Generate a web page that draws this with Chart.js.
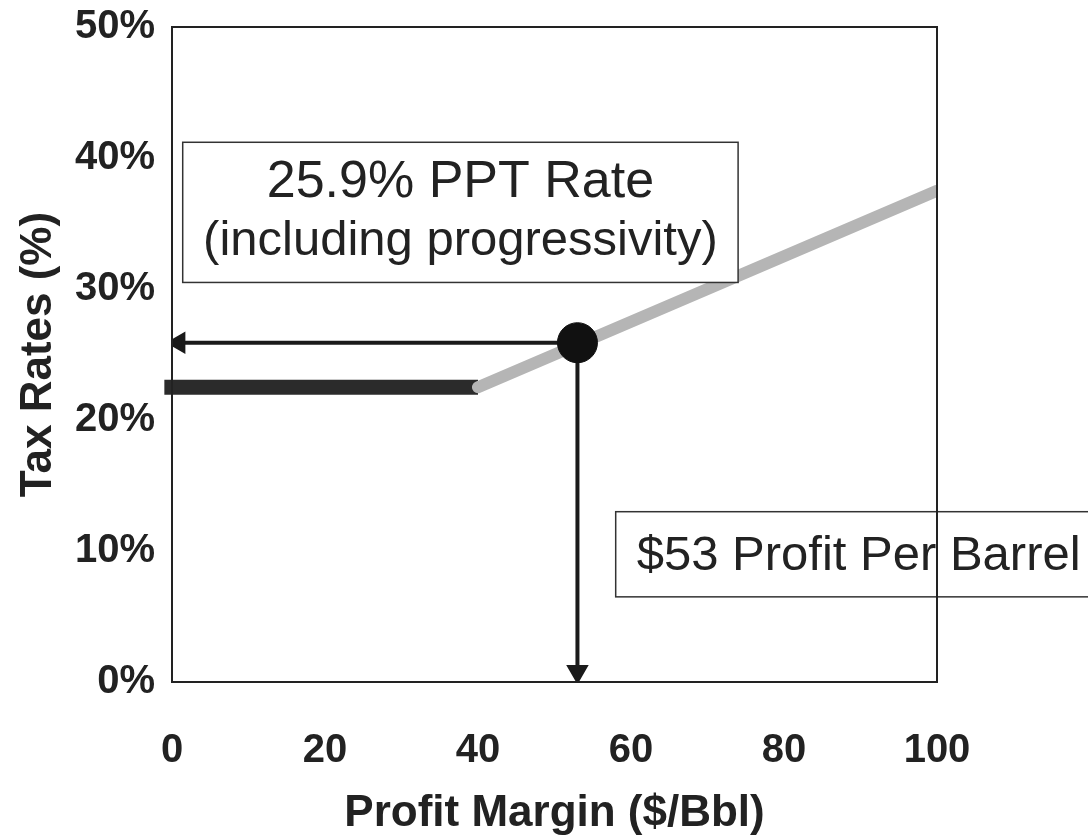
<!DOCTYPE html>
<html>
<head>
<meta charset="utf-8">
<script src="https://cdn.jsdelivr.net/npm/chart.js@4.4.1/dist/chart.umd.min.js"></script>
<style>
  html, body { margin: 0; padding: 0; background: #fff; }
</style>
</head>
<body>
<canvas id="chart" width="1088" height="840"></canvas>
<script>
// Base rate segment (flat) and progressive segment
const baseX = [-1, 40];
const baseRate = [22.5, 22.5];
const progX = [40, 100];
const progRate = [22.5, 37.5];

// Marked operating point
const pointX = 53;
const pointRate = 25.9;

// Arrow ends (where the arrows stop on the axes)
const arrowLeftX = 0.9;
const arrowDownY = 0.8;

// Axis ticks
const xTicks = [0, 20, 40, 60, 80, 100];
const yTicks = [0, 10, 20, 30, 40, 50];

// Text boxes: [x0, x1, y0, y1] in data units
const rateNote = ['25.9% PPT Rate', '(including progressivity)'];
const rateBox = [1.4, 74, 41.2, 30.5];
const profitNote = ['$53 Profit Per Barrel'];
const profitBox = [58, 130, 13, 6.5];

const FONT = '"Liberation Sans", Arial, sans-serif';

const toXY = (xs, ys) => xs.map((v, i) => ({ x: v, y: ys[i] }));

// Draw the text boxes
const notesPlugin = {
    id: 'notes',
    afterDatasetsDraw(chart) {
        const { ctx, scales } = chart;
        const frame = (box, fill) => {
            const l = scales.x.getPixelForValue(box[0]);
            const r = scales.x.getPixelForValue(box[1]);
            const t = scales.y.getPixelForValue(box[2]);
            const b = scales.y.getPixelForValue(box[3]);
            if (fill) {
                ctx.fillStyle = '#fff';
                ctx.fillRect(l, t, r - l, b - t);
            }
            ctx.strokeStyle = '#333';
            ctx.lineWidth = 1.5;
            ctx.strokeRect(l, t, r - l, b - t);
            return { l, r, t, b };
        };
        ctx.save();
        ctx.textBaseline = 'middle';

        let f = frame(rateBox, true);
        ctx.fillStyle = '#222';
        ctx.textAlign = 'center';
        ctx.font = '52px ' + FONT;
        ctx.fillText(rateNote[0], (f.l + f.r) / 2, f.t + 40);
        ctx.font = '49px ' + FONT;
        ctx.fillText(rateNote[1], (f.l + f.r) / 2, f.t + 99);

        f = frame(profitBox, false);
        ctx.fillStyle = '#222';
        ctx.textAlign = 'left';
        ctx.font = '49px ' + FONT;
        ctx.fillText(profitNote[0], f.l + 21, (f.t + f.b) / 2 + 2);
        ctx.restore();
    },
    afterDraw(chart) {
        // plot frame
        const { ctx, chartArea: a } = chart;
        ctx.save();
        ctx.strokeStyle = '#222';
        ctx.lineWidth = 2;
        ctx.strokeRect(a.left, a.top, a.right - a.left, a.bottom - a.top);
        ctx.restore();
    }
};

const ctx = document.getElementById('chart').getContext('2d');
new Chart(ctx, {
    type: 'line',
    data: {
        datasets: [
            {
                label: 'Point',
                data: [{ x: pointX, y: pointRate }],
                showLine: false,
                pointRadius: 20,
                pointBackgroundColor: '#111',
                pointBorderColor: '#111',
                order: 0
            },
            {
                label: 'Arrow left',
                data: [{ x: pointX, y: pointRate }, { x: arrowLeftX, y: pointRate }],
                borderColor: '#1a1a1a',
                borderWidth: 4,
                pointStyle: 'triangle',
                rotation: -90,
                pointRadius: [0, 9],
                pointBackgroundColor: '#1a1a1a',
                pointBorderColor: '#1a1a1a',
                order: 1
            },
            {
                label: 'Arrow down',
                data: [{ x: pointX, y: pointRate }, { x: pointX, y: arrowDownY }],
                borderColor: '#1a1a1a',
                borderWidth: 4,
                pointStyle: 'triangle',
                rotation: 180,
                pointRadius: [0, 9],
                pointBackgroundColor: '#1a1a1a',
                pointBorderColor: '#1a1a1a',
                order: 2
            },
            {
                label: 'Progressive rate',
                data: toXY(progX, progRate),
                borderColor: '#b5b5b5',
                borderWidth: 12,
                borderCapStyle: 'round',
                pointRadius: 0,
                order: 3
            },
            {
                label: 'Base rate',
                data: toXY(baseX, baseRate),
                borderColor: '#2b2b2b',
                borderWidth: 15,
                pointRadius: 0,
                clip: false,
                order: 4
            }
        ]
    },
    options: {
        animation: false,
        responsive: false,
        layout: { padding: { top: 27, right: 151, left: 0, bottom: 0 } },
        plugins: { legend: { display: false }, tooltip: { enabled: false } },
        scales: {
            x: {
                type: 'linear',
                min: 0,
                max: 100,
                afterBuildTicks: (s) => { s.ticks = xTicks.map(v => ({ value: v })); },
                afterFit: (s) => { s.height = 158; },
                grid: { display: false, drawTicks: false },
                border: { display: false },
                ticks: {
                    padding: 45,
                    color: '#222',
                    font: { family: FONT, size: 40, weight: 'bold' }
                },
                title: {
                    display: true,
                    text: 'Profit Margin ($/Bbl)',
                    color: '#222',
                    padding: { top: 0, bottom: 0 },
                    font: { family: FONT, size: 44, weight: 'bold' }
                }
            },
            y: {
                type: 'linear',
                min: 0,
                max: 50,
                afterBuildTicks: (s) => { s.ticks = yTicks.map(v => ({ value: v })); },
                afterFit: (s) => {
                    s.width = 172;
                    s.paddingTop = 0;
                    s.paddingBottom = 0;
                },
                grid: { display: false, drawTicks: false },
                border: { display: false },
                ticks: {
                    padding: 17,
                    color: '#222',
                    callback: (v) => v + '%',
                    font: { family: FONT, size: 40, weight: 'bold' }
                },
                title: {
                    display: true,
                    text: 'Tax Rates (%)',
                    color: '#222',
                    padding: { top: 12, bottom: 0 },
                    font: { family: FONT, size: 44, weight: 'bold' }
                }
            }
        }
    },
    plugins: [notesPlugin]
});
</script>
</body>
</html>
